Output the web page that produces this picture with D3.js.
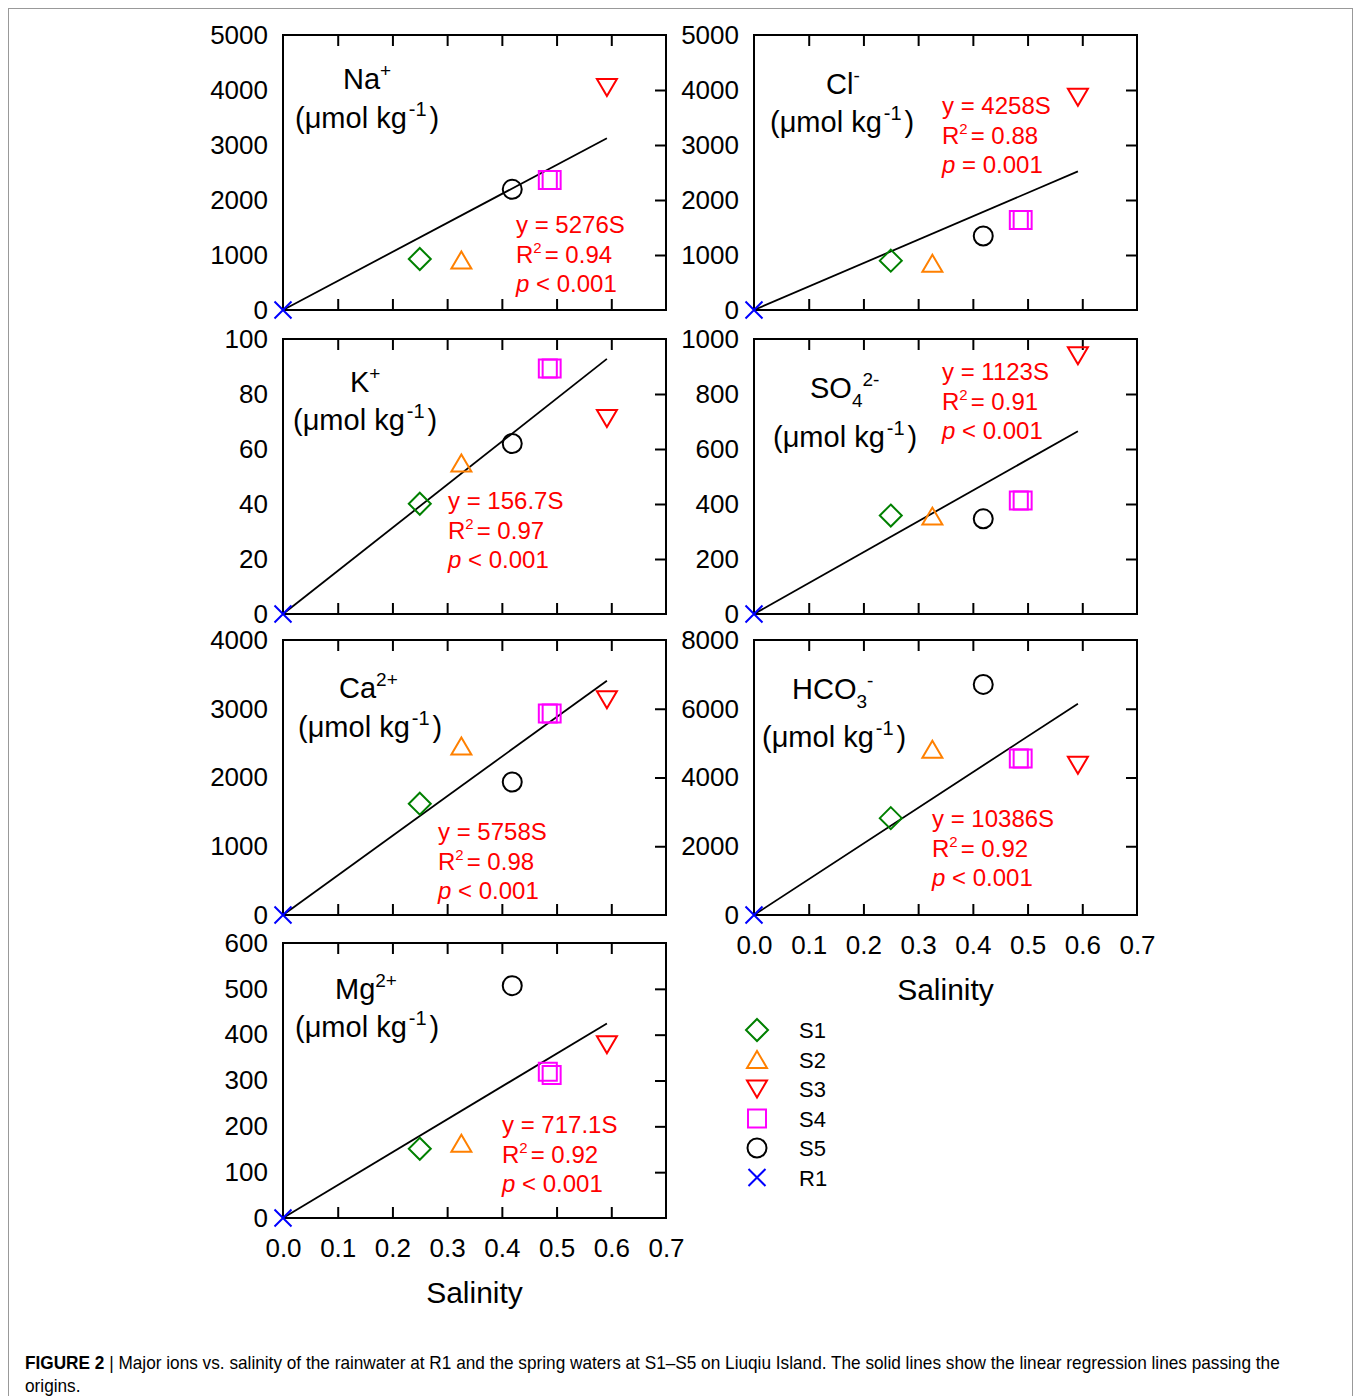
<!DOCTYPE html>
<html lang="en">
<head>
<meta charset="UTF-8">
<script src="https://d3js.org/d3.v7.min.js"></script>
<title>Major ions vs. salinity</title>
<style>
  body { margin: 0; background: #fff; }
  svg text { font-family: "Liberation Sans", Arial, Helvetica, sans-serif; }
</style>
</head>
<body>
<div id="chart"></div>
<script>
// sampling sites and their salinity (S4 was sampled twice)
var sites = ["S1", "S2", "S3", "S4", "S4", "S5", "R1"];
var salinity = [0.250, 0.326, 0.592, 0.484, 0.491, 0.419, 0];

// ion concentrations (umol/kg), same order as sites
var naValues = [927, 909, 4047, 2364, 2364, 2194, 0];
var clValues = [897, 849, 3867, 1636, 1636, 1345, 0];
var kValues = [40.1, 54.9, 71.1, 89.3, 89.3, 62.0, 0];
var so4Values = [358, 356, 939, 413, 413, 346, 0];
var caValues = [1619, 2459, 3130, 2931, 2931, 1934, 0];
var hco3Values = [2818, 4821, 4354, 4550, 4550, 6708, 0];
var mgValues = [151, 163, 378, 319, 312, 507, 0];

// regression through the origin, one per panel
var slopes = [5276, 4258, 156.7, 1123, 5758, 10386, 717.1];
var slopeLabels = ["5276", "4258", "156.7", "1123", "5758", "10386", "717.1"];
var r2Labels = ["0.94", "0.88", "0.97", "0.91", "0.98", "0.92", "0.92"];
var pLabels = ["< 0.001", "= 0.001", "< 0.001", "< 0.001", "< 0.001", "< 0.001", "< 0.001"];

// axes
var yMaxes = [5000, 5000, 100, 1000, 4000, 8000, 600];
var yTickSteps = [1000, 1000, 20, 200, 1000, 2000, 100];
var xTicks = [0, 0.1, 0.2, 0.3, 0.4, 0.5, 0.6, 0.7];

// panel titles: [base, sub, sup]
var ionNames = [["Na", "", "+"], ["Cl", "", "-"], ["K", "", "+"], ["SO", "4", "2-"],
                ["Ca", "", "2+"], ["HCO", "3", "-"], ["Mg", "", "2+"]];
var panelValues = [naValues, clValues, kValues, so4Values, caValues, hco3Values, mgValues];
var legendSites = ["S1", "S2", "S3", "S4", "S5", "R1"];

// layout (not data)
var W = 1354, H = 1396;
var colX = [283, 754], rowY = [35, 339, 640, 943];
var pw = 383, ph = 275;
var layout = [
    {col: 0, row: 0, name: [60, 54], unit: [12, 93], eq: [233, 198], xlab: false},
    {col: 1, row: 0, name: [72, 59], unit: [16, 97], eq: [188, 79], xlab: false},
    {col: 0, row: 1, name: [67, 53], unit: [10, 91], eq: [165, 170], xlab: false},
    {col: 1, row: 1, name: [56, 59], unit: [19, 108], eq: [188, 41], xlab: false},
    {col: 0, row: 2, name: [56, 58], unit: [15, 97], eq: [155, 200], xlab: false},
    {col: 1, row: 2, name: [38, 59], unit: [8, 107], eq: [178, 187], xlab: true},
    {col: 0, row: 3, name: [52, 56], unit: [12, 94], eq: [219, 190], xlab: true}
];

var colors = {S1: "#008000", S2: "#ff8000", S3: "#ff0000", S4: "#ff00ff", S5: "#000000", R1: "#0000ff"};

function markerPath(site) {
    if (site == "S1") return "M0,-11L11,0L0,11L-11,0Z";
    if (site == "S2") return "M-10,8.5L10,8.5L0,-8.5Z";
    if (site == "S3") return "M-10,-8.5L10,-8.5L0,8.5Z";
    if (site == "S4") return "M-9,-9h18v18h-18Z";
    if (site == "S5") return "M9.5,0A9.5,9.5 0 1,1 -9.5,0A9.5,9.5 0 1,1 9.5,0";
    return "M-8.5,-8.5L8.5,8.5M-8.5,8.5L8.5,-8.5";
}

var svg = d3.select("#chart").append("svg")
    .attr("width", W)
    .attr("height", H);

svg.append("rect").attr("width", W).attr("height", H).attr("fill", "#fff");

// figure frame
svg.append("rect")
    .attr("x", 8.5).attr("y", 8.5)
    .attr("width", 1344).attr("height", 1420)
    .attr("fill", "none")
    .attr("stroke", "#999")
    .attr("stroke-width", 1);

var innerTicks = [0.1, 0.2, 0.3, 0.4, 0.5, 0.6];

layout.forEach(function (L, i) {
    var g = svg.append("g")
        .attr("transform", "translate(" + colX[L.col] + "," + rowY[L.row] + ")");

    var x = d3.scaleLinear().domain([0, 0.7]).range([0, pw]);
    var y = d3.scaleLinear().domain([0, yMaxes[i]]).range([ph, 0]);
    var yTicks = d3.range(0, yMaxes[i] + yTickSteps[i] / 2, yTickSteps[i]);

    // y tick labels
    var yl = g.append("g")
        .call(d3.axisLeft(y).tickValues(yTicks).tickSize(0).tickPadding(15)
            .tickFormat(d3.format("d")));
    yl.select(".domain").remove();
    yl.selectAll("text").attr("font-size", "26px").attr("fill", "#000")
        .style("font-family", "'Liberation Sans', Arial, sans-serif");

    // inner ticks on right, top and bottom
    var yr = g.append("g").attr("transform", "translate(" + pw + ",0)")
        .call(d3.axisRight(y).tickValues(yTicks.slice(1, -1)).tickSize(-11).tickFormat(""));
    var xt = g.append("g")
        .call(d3.axisTop(x).tickValues(innerTicks).tickSize(-11).tickFormat(""));
    var xb = g.append("g").attr("transform", "translate(0," + ph + ")")
        .call(d3.axisBottom(x).tickValues(innerTicks).tickSize(-11).tickFormat(""));
    [yr, xt, xb].forEach(function (a) {
        a.select(".domain").remove();
        a.selectAll("line").attr("stroke", "#000").attr("stroke-width", 2);
    });

    if (L.xlab) {
        var xl = g.append("g").attr("transform", "translate(0," + ph + ")")
            .call(d3.axisBottom(x).tickValues(xTicks).tickSize(0).tickPadding(21)
                .tickFormat(d3.format(".1f")));
        xl.select(".domain").remove();
        xl.selectAll("text").attr("font-size", "26px").attr("fill", "#000")
            .style("font-family", "'Liberation Sans', Arial, sans-serif");
        g.append("text")
            .attr("x", pw / 2).attr("y", ph + 85)
            .attr("text-anchor", "middle")
            .attr("font-size", "30px")
            .text("Salinity");
    }

    // frame
    g.append("rect")
        .attr("width", pw).attr("height", ph)
        .attr("fill", "none")
        .attr("stroke", "#000")
        .attr("stroke-width", 2);

    // regression line
    var sMax = d3.max(salinity);
    g.append("path")
        .datum([0, sMax])
        .attr("d", d3.line()
            .x(function (d) { return x(d); })
            .y(function (d) { return y(d * slopes[i]); }))
        .attr("fill", "none")
        .attr("stroke", "#000")
        .attr("stroke-width", 1.8);

    // points
    g.selectAll("path.pt")
        .data(sites)
        .enter()
        .append("path")
        .attr("class", "pt")
        .attr("transform", function (d, j) {
            return "translate(" + x(salinity[j]) + "," + y(panelValues[i][j]) + ")";
        })
        .attr("d", function (d) { return markerPath(d); })
        .attr("fill", "none")
        .attr("stroke", function (d) { return colors[d]; })
        .attr("stroke-width", 2);

    // ion name
    var nm = ionNames[i];
    var t = g.append("text")
        .attr("x", L.name[0]).attr("y", L.name[1])
        .attr("font-size", "29px");
    t.append("tspan").text(nm[0]);
    var shift = 0;
    if (nm[1]) {
        t.append("tspan").attr("font-size", "19px").attr("dy", 9).text(nm[1]);
        shift = 9;
    }
    t.append("tspan").attr("font-size", "19px").attr("dy", -12 - shift).text(nm[2]);

    // unit
    var u = g.append("text")
        .attr("x", L.unit[0]).attr("y", L.unit[1])
        .attr("font-size", "29px");
    u.append("tspan").text("(\u03bcmol kg");
    u.append("tspan").attr("font-size", "20px").attr("dy", -12).attr("dx", 2).text("-1");
    u.append("tspan").attr("dy", 12).attr("dx", 3).text(")");

    // regression equation
    var eq = g.append("g")
        .attr("transform", "translate(" + L.eq[0] + "," + L.eq[1] + ")")
        .attr("fill", "#ff0000");
    eq.append("text").attr("font-size", "24px").text("y = " + slopeLabels[i] + "S");
    var r2 = eq.append("text").attr("y", 29.5).attr("font-size", "24px");
    r2.append("tspan").text("R");
    r2.append("tspan").attr("font-size", "15px").attr("dy", -10).text("2");
    r2.append("tspan").attr("dy", 10).attr("dx", 3).text("= " + r2Labels[i]);
    var pl = eq.append("text").attr("y", 59).attr("font-size", "24px");
    pl.append("tspan").attr("font-style", "italic").text("p");
    pl.append("tspan").text(" " + pLabels[i]);
});

// legend
var ly = d3.scaleLinear().domain([0, legendSites.length - 1]).range([1030, 1177.5]);
var lg = svg.append("g");
lg.selectAll("path")
    .data(legendSites)
    .enter()
    .append("path")
    .attr("transform", function (d, j) { return "translate(757," + ly(j) + ")"; })
    .attr("d", function (d) { return markerPath(d); })
    .attr("fill", "none")
    .attr("stroke", function (d) { return colors[d]; })
    .attr("stroke-width", 2);
lg.selectAll("text")
    .data(legendSites)
    .enter()
    .append("text")
    .attr("x", 799)
    .attr("y", function (d, j) { return ly(j) + 8; })
    .attr("font-size", "22px")
    .text(function (d) { return d; });

// caption
var cap = svg.append("g").attr("transform", "translate(25,0)");
var c1 = cap.append("text").attr("y", 1369).attr("font-size", "18px");
c1.append("tspan").attr("font-weight", "bold").text("FIGURE 2");
c1.append("tspan").text(" | Major ions vs. salinity of the rainwater at R1 and the spring waters at S1\u2013S5 on Liuqiu Island. The solid lines show the linear regression lines passing the");
var c2 = cap.append("text").attr("y", 1392).attr("font-size", "18px").text("origins.");
var k = 1255 / c1.node().getComputedTextLength();
cap.attr("transform", "translate(25,0) scale(" + k + ",1)");
</script>
</body>
</html>
